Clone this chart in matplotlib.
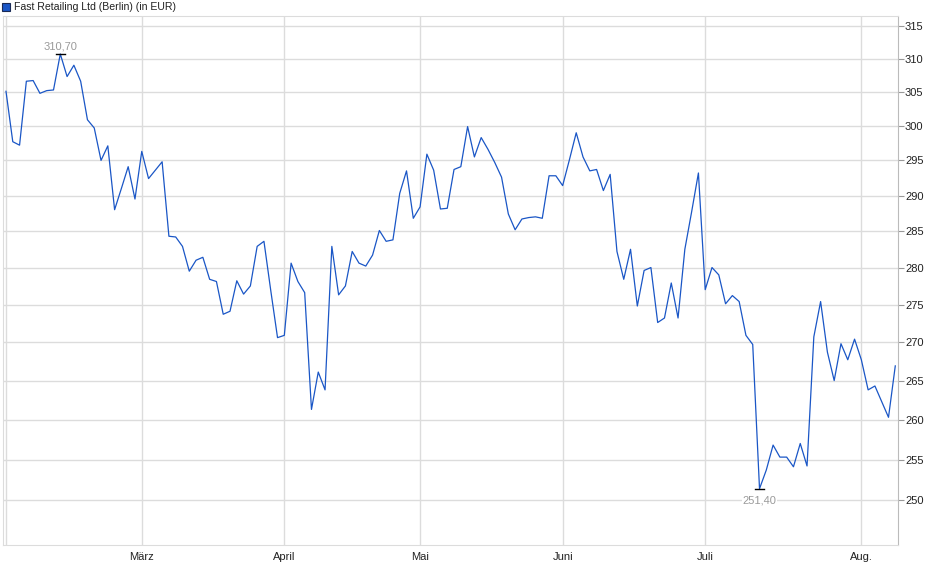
import numpy as np
import matplotlib.pyplot as plt
from matplotlib.ticker import FixedLocator, NullLocator, FixedFormatter

plt.rcParams['font.family'] = ['Liberation Sans', 'DejaVu Sans']

# Schlusskurse (EUR), ein Wert pro Handelstag ab Anfang Februar
closes = [
    305.1, 297.7, 297.2, 306.6, 306.7, 304.8, 305.2, 305.3, 310.7, 307.3,
    309.0, 306.6, 300.9, 299.7, 295.0, 297.1, 288.0, 291.0, 294.1, 289.5,
    296.3, 292.4, 293.6, 294.8, 284.3, 284.2, 282.9, 279.5, 281.0, 281.4,
    278.4, 278.1, 273.7, 274.1, 278.2, 276.4, 277.5, 282.9, 283.6, 276.9,
    270.6, 270.9, 280.6, 278.1, 276.6, 261.3, 266.1, 263.8, 282.9, 276.3,
    277.5, 282.2, 280.6, 280.2, 281.7, 285.1, 283.6, 283.8, 290.3, 293.5,
    286.8, 288.4, 295.9, 293.6, 288.1, 288.2, 293.7, 294.1, 299.9, 295.5,
    298.3, 296.6, 294.7, 292.6, 287.4, 285.2, 286.7, 286.9, 287.0, 286.8,
    292.8, 292.8, 291.4, 295.1, 299.0, 295.5, 293.5, 293.7, 290.7, 293.0,
    282.2, 278.4, 282.5, 274.8, 279.6, 280.0, 272.6, 273.2, 277.9, 273.2,
    282.5, 287.7, 293.2, 277.0, 280.0, 279.0, 275.1, 276.2, 275.4, 270.9,
    269.7, 251.4, 253.7, 256.8, 255.3, 255.3, 254.1, 257.0, 254.2, 270.7,
    275.4, 268.7, 265.0, 269.8, 267.7, 270.4, 267.7, 263.8, 264.3, 262.3,
    260.3, 266.9,
]
# erster Handelstag jedes Monats (Index in closes)
month_idx = [20, 41, 61, 82, 103, 126]
month_labels = ['März', 'April', 'Mai', 'Juni', 'Juli', 'Aug.']
y_ticks = [250, 255, 260, 265, 270, 275, 280, 285, 290, 295, 300, 305, 310, 315]

title = 'Fast Retailing Ltd (Berlin) (in EUR)'
line_color = '#1a56c6'
grid_color = '#dcdcdc'

x = np.arange(len(closes))
y = np.array(closes)

fig = plt.figure(figsize=(9.4, 5.79), dpi=100)
ax = fig.add_axes([3 / 940, 34 / 579, 895 / 940, 529 / 579])

ax.plot(x, y, color=line_color, linewidth=0.9, zorder=3)

ax.set_yscale('log')
ax.set_ylim(244.6, 316.5)
ax.set_xlim(-0.44, 131.4)

ax.yaxis.set_major_locator(FixedLocator(y_ticks))
ax.yaxis.set_major_formatter(FixedFormatter([str(t) for t in y_ticks]))
ax.yaxis.set_minor_locator(NullLocator())
ax.yaxis.tick_right()
ax.tick_params(axis='y', which='major', length=4, width=0.8, color='#999999',
               labelsize=8, labelcolor='#222222', pad=1)

ax.set_xticks(month_idx)
ax.set_xticklabels(month_labels)
ax.tick_params(axis='x', length=0, labelsize=8, labelcolor='#222222', pad=5)

# Gitter
for t in y_ticks:
    ax.axhline(t, color=grid_color, linewidth=1.0, zorder=1)
for m in month_idx + [0]:
    ax.axvline(m, color=grid_color, linewidth=1.0, zorder=1)

for s in ['left', 'top', 'bottom']:
    ax.spines[s].set_color(grid_color)
ax.spines['right'].set_color('#bbbbbb')

# Hoch / Tief markieren
i_max = int(np.argmax(y))
i_min = int(np.argmin(y))
for i, dy, va in [(i_max, 2, 'bottom'), (i_min, -5, 'top')]:
    ax.plot([i - 0.7, i + 0.7], [y[i], y[i]], color='black', linewidth=1.0, zorder=4)
    ax.annotate(f'{y[i]:.2f}'.replace('.', ','), (i, y[i]), xytext=(0, dy),
                textcoords='offset points', ha='center', va=va, fontsize=8, color='#9a9a9a',
                zorder=5, bbox=dict(facecolor='white', edgecolor='none', pad=0.5) if i == i_min else None)

# Titel mit Legendenkästchen
fig.patches.append(plt.Rectangle((2 / 940, 1 - 11 / 579), 8 / 940, 8 / 579, transform=fig.transFigure,
                                 facecolor=line_color, edgecolor='#1a2a55', linewidth=0.8))
fig.text(14 / 940, 1 - 7 / 579, title, fontsize=7.6, color='#222222', va='center', ha='left')

fig.savefig('out.png', dpi=100)
